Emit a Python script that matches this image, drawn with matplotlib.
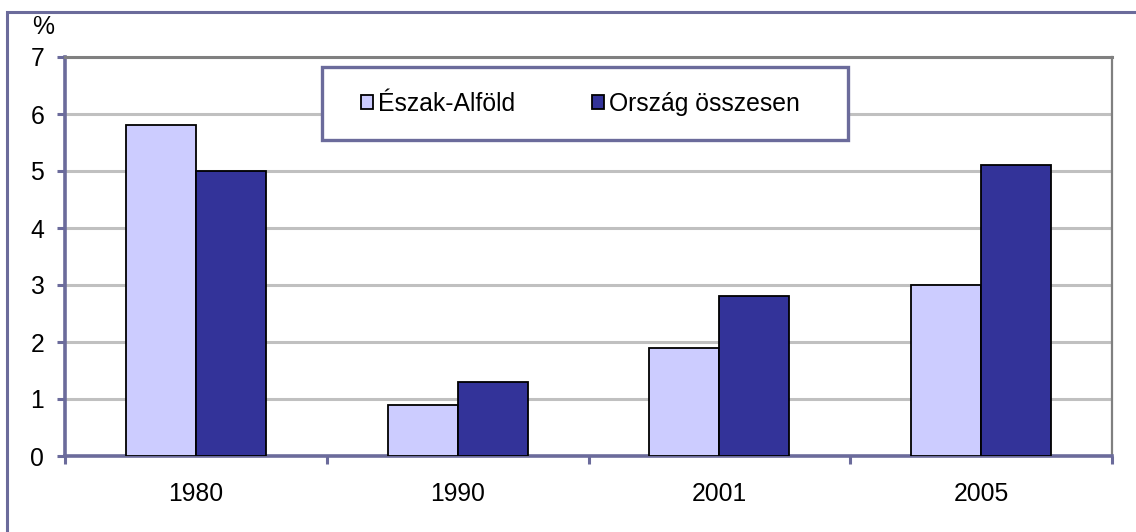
import numpy as np
import matplotlib.pyplot as plt
from matplotlib.patches import Rectangle

plt.rcParams['font.family'] = ['Liberation Sans', 'DejaVu Sans']

# adatok
years = ['1980', '1990', '2001', '2005']
eszak_alfold = [5.8, 0.9, 1.9, 3.0]
orszag = [5.0, 1.3, 2.8, 5.1]
series_names = ['Észak-Alföld', 'Ország összesen']

W, H = 1136, 532
axis_col = '#6B6B9B'
light = '#CCCCFF'
dark = '#333399'
fs = 17.8

fig = plt.figure(figsize=(W / 100, H / 100), dpi=100)
ax = fig.add_axes([65 / W, 1 - 456 / H, (1112 - 65) / W, (456 - 57) / H])

# külső keret
fig.add_artist(Rectangle((7 / W, -0.2), 2, 1.2 - 12 / H, transform=fig.transFigure,
                         fill=False, edgecolor=axis_col, linewidth=2.2))

x = np.arange(len(years))
bw = 0.267
b1 = ax.bar(x - bw / 2, eszak_alfold, bw, color=light, edgecolor='black', linewidth=1.3, zorder=3)
b2 = ax.bar(x + bw / 2, orszag, bw, color=dark, edgecolor='black', linewidth=1.3, zorder=3)

ax.set_xlim(-0.5, len(years) - 0.5)
ax.set_ylim(0, 7)
ax.set_yticks(range(0, 8))
ax.yaxis.grid(True, color='#C0C0C0', linewidth=2.2, zorder=0)
ax.set_axisbelow(True)

ax.set_xticks(x)
ax.set_xticklabels(years)
ax.tick_params(axis='x', length=0, pad=19, labelsize=fs)
ax.set_xticks(np.arange(-0.5, len(years)), minor=True)
ax.tick_params(axis='x', which='minor', length=6, width=2.2, color=axis_col, direction='out')
ax.tick_params(axis='y', length=6, width=2.2, color=axis_col, pad=9, labelsize=fs)

for s in ['left', 'bottom']:
    ax.spines[s].set_color(axis_col)
    ax.spines[s].set_linewidth(2.6)
ax.spines['top'].set_color('#808080')
ax.spines['top'].set_linewidth(2.2)
ax.spines['right'].set_color('#808080')
ax.spines['right'].set_linewidth(1.6)

# % felirat
fig.text(32 / W, 1 - 27 / H, '%', fontsize=fs, va='center', ha='left')

# jelmagyarázat kerete
fig.add_artist(Rectangle((322 / W, 1 - 140 / H), (848 - 322) / W, (140 - 67) / H,
                         transform=fig.transFigure, facecolor='white',
                         edgecolor=axis_col, linewidth=2.4, zorder=5))
leg = fig.legend([b1, b2], series_names, loc='center left',
                 bbox_to_anchor=(361 / W, 1 - 104 / H), ncol=2, frameon=False,
                 fontsize=fs, handlelength=0.5, handleheight=0.5, handletextpad=0.2,
                 columnspacing=3.1, borderpad=0, borderaxespad=0)
leg.set_zorder(6)

fig.savefig('out.png', dpi=100)
